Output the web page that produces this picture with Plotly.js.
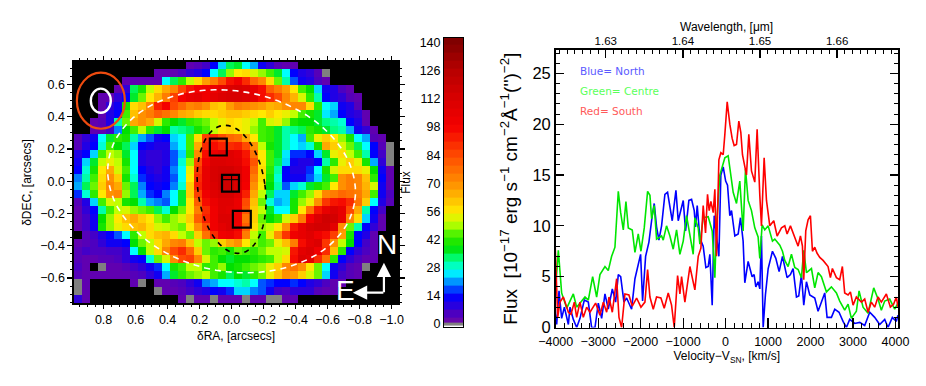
<!DOCTYPE html>
<html>
<head>
<meta charset="utf-8">
<script src="https://cdn.plot.ly/plotly-3.0.1.min.js"></script>
<style>html,body{margin:0;padding:0;background:#fff}</style>
</head>
<body>
<div id="chart" style="width:926px;height:386px"></div>
<script>
const n = null;
// flux map, top row first, null = no data (black)
const raValues = [0.96,0.91,0.86,0.81,0.76,0.71,0.66,0.61,0.56,0.51,0.46,0.41,0.36,0.31,0.26,0.21,0.16,0.11,0.06,0.01,-0.04,-0.09,-0.14,-0.19,-0.24,-0.29,-0.34,-0.39,-0.44,-0.49,-0.54,-0.59,-0.64,-0.69,-0.74,-0.79,-0.84,-0.89,-0.94,-0.99];
const decValues = [0.72,0.67,0.62,0.57,0.52,0.47,0.42,0.37,0.32,0.27,0.22,0.17,0.12,0.07,0.02,-0.03,-0.08,-0.13,-0.18,-0.23,-0.28,-0.33,-0.38,-0.43,-0.48,-0.53,-0.58,-0.63,-0.68,-0.73];
const fluxMap = [
[n,n,n,n,n,n,n,n,n,n,n,n,n,n,3,4,6,14,24,34,36,26,22,12,8,4,3,3,n,n,n,n,n,n,n,n,n,n,n,n],
[n,n,n,n,n,n,n,n,n,n,3,3,3,5,8,10,14,26,34,48,56,58,52,48,44,36,26,14,10,8,4,0,n,n,n,n,n,n,n,n],
[n,n,n,n,n,n,3,3,3,3,3,26,34,42,50,58,68,74,84,95,100,90,78,72,58,46,30,18,12,10,5,3,n,n,n,n,n,n,n,n],
[n,n,n,n,n,3,8,34,40,50,58,66,72,85,94,98,100,102,106,110,112,110,104,96,80,74,68,56,44,38,24,12,10,5,3,n,n,n,n,n],
[n,n,n,3,3,8,14,36,46,56,64,74,86,98,104,106,100,106,110,112,112,110,106,96,90,84,72,64,52,42,30,14,10,8,4,3,n,n,n,n],
[n,n,n,3,8,12,40,58,62,72,92,98,84,78,72,74,70,62,60,68,74,72,70,68,64,66,70,72,72,58,42,26,24,12,10,4,n,n,n,n],
[n,n,n,3,10,14,44,62,70,74,80,76,72,66,64,60,58,58,60,62,62,60,58,56,60,56,54,50,44,40,36,25,22,14,10,8,3,n,n,n],
[n,n,3,4,10,30,46,66,70,66,52,42,38,36,42,44,46,50,54,58,56,54,50,44,52,54,48,40,38,38,36,32,30,28,14,10,3,n,n,n],
[n,n,3,3,6,20,38,44,50,42,36,38,30,32,34,40,44,50,56,58,56,54,48,44,42,36,30,32,34,42,40,36,32,30,22,12,8,3,n,n],
[4,8,12,26,36,42,40,30,22,18,12,14,24,26,44,58,86,90,84,78,76,66,56,44,42,36,30,26,22,44,54,60,56,48,40,26,22,4,3,n],
[4,10,14,28,44,38,34,24,14,12,10,10,22,26,44,66,90,96,92,90,92,84,70,50,40,36,30,26,24,28,40,66,60,52,46,34,26,14,4,0],
[10,14,24,44,50,48,36,26,10,8,8,10,18,24,42,72,96,102,106,108,104,94,76,56,44,36,25,16,16,14,24,36,54,58,50,44,30,14,6,0],
[12,24,36,50,54,50,40,26,10,8,8,10,18,28,48,84,100,110,110,108,106,96,82,56,44,34,24,12,10,10,14,30,42,54,60,54,40,22,8,0],
[14,28,40,56,66,52,44,26,14,10,8,12,20,26,54,88,104,112,114,114,110,100,78,58,42,30,14,10,10,16,26,40,52,58,58,58,54,38,12,3],
[20,30,44,58,70,60,40,28,16,12,10,12,18,26,56,90,104,112,116,116,112,100,74,58,40,28,14,12,12,18,24,36,44,70,74,72,62,42,14,3],
[22,34,46,60,72,66,46,34,20,14,12,14,20,28,60,92,104,110,116,116,110,98,70,56,38,30,18,24,28,36,40,44,56,70,74,72,64,52,12,3],
[16,28,42,56,70,72,48,34,22,16,14,20,26,36,60,86,100,108,112,112,106,92,66,50,34,24,24,36,44,48,58,72,74,78,76,74,66,44,12,5],
[4,10,24,44,52,50,40,38,30,22,20,18,26,36,56,80,96,102,108,108,102,84,62,46,28,22,24,40,48,54,70,88,94,96,90,76,60,26,10,4],
[3,8,14,30,44,50,52,48,46,44,34,28,38,46,56,74,90,100,108,106,102,82,60,50,36,26,26,40,56,76,94,104,110,104,84,66,30,14,6,n],
[3,6,12,38,48,56,62,66,60,56,48,44,48,52,60,80,92,100,110,110,102,76,60,46,38,42,52,60,74,98,110,116,114,104,72,58,24,12,3,n],
[3,6,12,40,48,54,58,62,64,58,52,50,48,46,56,70,84,100,106,110,100,80,58,48,50,56,70,94,104,112,114,114,106,70,46,30,14,8,3,n],
[n,4,6,10,14,18,26,42,50,58,62,64,58,50,46,60,76,90,100,102,96,74,50,44,54,70,88,100,104,108,100,96,86,68,40,14,10,3,n,n],
[3,4,5,8,12,12,14,38,46,50,58,66,72,74,62,50,46,48,60,66,70,56,48,44,46,54,62,74,96,106,110,88,70,50,38,14,6,3,n,n],
[4,6,5,5,6,6,8,26,38,50,58,72,84,90,78,60,46,42,44,40,46,44,42,46,50,50,52,94,106,110,100,90,62,42,14,8,5,3,n,n],
[4,3,3,4,4,5,8,12,14,28,46,52,72,84,86,72,52,44,38,36,38,38,40,42,44,50,58,96,110,106,90,76,42,14,8,5,3,3,n,n],
[5,3,n,0,3,3,4,6,8,12,16,26,40,44,50,50,42,44,48,38,40,44,46,48,54,60,72,76,70,56,46,26,12,8,4,3,0,n,n,n],
[4,3,3,3,3,3,3,4,5,8,12,22,36,42,46,48,50,44,40,34,38,36,42,46,54,62,70,68,60,52,46,24,12,6,4,3,n,n,n,n],
[0,3,n,n,n,n,n,3,0,n,3,3,4,5,8,12,20,22,26,26,28,30,26,18,16,14,14,16,14,10,8,5,3,3,n,n,n,n,n,n],
[0,3,n,n,n,n,n,n,n,n,0,3,3,4,6,8,10,14,12,16,24,24,20,18,12,6,5,8,8,8,4,3,3,n,n,n,n,n,n,n],
[8,3,n,n,n,n,n,n,n,n,n,n,n,3,0,3,3,0,3,3,3,0,3,3,0,0,3,3,n,n,n,n,n,n,n,n,n,n,n,n]
];
const barLevels = [0,1.5,5,9,13,17,21,25,29,33,37,41,45,49,53,57,61,65,69,73,77,81,85,89,93,97,101,105,109,113,117,121,125,129,133,137,141];
const barTicks = [0,14,28,42,56,70,84,98,112,126,140];

// spectra
const blueVel = [-4016,-3977,-3922,-3860,-3796,-3702,-3663,-3585,-3506,-3428,-3326,-3232,-3154,-3075,-2997,-2918,-2840,-2762,-2667,-2589,-2526,-2470,-2393,-2330,-2213,-2134,-2001,-1954,-1883,-1805,-1727,-1680,-1625,-1570,-1507,-1429,-1366,-1256,-1169,-1115,-997,-942,-864,-801,-738,-707,-668,-605,-527,-464,-409,-370,-315,-268,-158,-111,-56,2,46,100,140,218,297,351,413,453,531,625,672,712,766,806,845,885,938,1003,1104,1183,1261,1340,1449,1527,1590,1669,1723,1786,1841,1904,1982,2100,2178,2257,2335,2390,2492,2571,2672,2766,2845,2923,3041,3159,3276,3394,3511,3629,3747,3825,3927,4021,4060];
const blueFlux = [1.5,0.3,3.6,0.9,2.0,0.3,2.0,0.8,0.0,0.9,2.7,2.5,0,0,2.4,0.9,3.3,1.8,3.8,2.5,5.2,5,2.5,2.9,1.8,4.8,7.2,2.6,7,8.4,11,12.2,9.9,8.6,10,13.1,13.3,10.5,13.5,10.5,12.5,9.5,12.5,12.6,11.5,9.9,12,8.8,8,5.9,6,7.2,2.2,11,7,15,15.8,14.4,14,11,11.5,9,9.2,10.8,8.5,4.4,6.5,5,5.2,4,4.5,3.8,9,0,3.2,5.8,7.5,6.8,5.5,7.0,4.9,5.2,5.8,3.0,3.1,5.2,2.2,4.5,3.2,2.9,1.6,2.5,3.4,1.0,1,1.8,1.5,0.6,0,0.8,0.4,0.5,0.2,1.5,1.0,0.3,0.8,0,1,0.6,1.2];
const greenVel = [-4016,-3938,-3860,-3740,-3585,-3506,-3310,-3232,-3130,-3036,-2958,-2840,-2762,-2683,-2605,-2526,-2470,-2408,-2346,-2291,-2197,-2134,-2056,-1993,-1915,-1836,-1781,-1742,-1680,-1625,-1507,-1468,-1390,-1311,-1233,-1154,-1076,-997,-919,-840,-762,-723,-644,-605,-527,-409,-315,-252,-213,-135,-17,61,179,257,335,413,469,531,610,688,766,806,861,923,1003,1104,1159,1277,1340,1394,1472,1551,1629,1708,1786,1841,1904,2022,2100,2178,2257,2375,2492,2610,2688,2805,2884,2962,3080,3143,3237,3355,3488,3590,3668,3747,3864,3982,4060];
const greenFlux = [3.0,7.6,3.4,1.9,3.3,2.0,3.0,2.7,5.0,3.0,5.2,6.0,5.6,7.0,7.9,13.4,11.3,9.6,12.4,9.8,9.6,7.4,9.2,7.5,9.8,13.4,13.0,10.7,12,8.7,9.0,8.6,10,9.0,7.7,9.6,7.2,8.5,11,9.0,7.2,10.8,9.8,8.2,10.8,10.9,9.5,4.9,10,15,16.7,16.9,13.3,12.2,14.4,9.5,15.6,12.5,11.5,9.8,8.9,6.8,10.1,9.6,10,8.5,8.7,8.1,7.5,6.6,6,7.2,5.9,5.7,4.9,7.6,5.4,5.8,3.9,5.4,5,3.5,4,3.4,2.6,1.7,2.3,0.9,1.6,3.6,2.0,1.4,3.9,2.8,1.7,2.6,2.8,1.8,2.4];
const redVel = [-4016,-3985,-3953,-3900,-3820,-3780,-3702,-3640,-3561,-3506,-3428,-3350,-3271,-3193,-3060,-2958,-2879,-2800,-2746,-2667,-2565,-2510,-2448,-2370,-2276,-2197,-2095,-1993,-1899,-1836,-1781,-1703,-1625,-1523,-1445,-1350,-1272,-1209,-1130,-1075,-1036,-958,-840,-723,-644,-581,-527,-472,-425,-386,-346,-291,-252,-213,-158,-111,-56,-17,38,100,155,202,257,312,359,398,437,492,547,610,688,743,806,845,908,963,1041,1135,1214,1316,1394,1449,1527,1629,1708,1763,1810,1841,1888,1943,1998,2045,2100,2155,2218,2296,2413,2468,2515,2610,2688,2750,2805,2884,2940,3002,3080,3198,3276,3355,3433,3511,3590,3668,3786,3880,3958,4021,4060];
const redFlux = [8.5,5,1.0,2.5,3.0,2.5,1.5,1.3,2.5,1.0,2.5,1.0,2.0,1.5,2.4,1.2,2.5,1.5,3,1.5,4.8,1,0,3.3,3.2,2.1,2.9,2,2.5,5.7,3,1.8,3,2.9,1.9,3.4,2.2,0,5.1,3.3,5,2.5,6,3.7,7,7.8,12,9.3,13.1,11.5,12.4,11.3,13.6,7,16.5,17.2,17,19,22.2,20,18.6,17.9,18,20.3,19.2,17,16,15,19,15.4,14.3,19.5,13,10,16.7,12.5,10,10.5,9,9.8,10,9.2,10,8.8,8,9,8,4.7,9.5,10.6,11,7.5,7.9,7.3,6.9,6.6,6,4.9,5.8,4.9,4.7,6,3.4,3.2,3.5,2.2,3,2.5,2.8,1.5,2.5,2,3,2.5,3.3,2,2.3,3,2];
const waveTicks = [1.63,1.64,1.65,1.66];

const fontName = '"Liberation Sans", Arial, sans-serif';
const W = 926, H = 386;
const domX = (a, b) => [a / W, b / W];
const domY = (top, bottom) => [1 - bottom / H, 1 - top / H];

// stops are flux values, scaled to 0..140 below
const rainbow = [
	[0,'#808080'],[0.6,'#808080'],[0.7,'#6a0aa8'],[3,'#6000b0'],[8,'#3000d8'],[14,'#0000ff'],[20,'#0080ff'],
	[26,'#00ffff'],[32,'#00ff80'],[38,'#00e000'],[44,'#40f000'],[50,'#c0ff00'],[56,'#ffe800'],[62,'#ffc000'],
	[70,'#ff9000'],[84,'#ff4a00'],[98,'#f40000'],[112,'#d80000'],[126,'#b80000'],[140,'#800000']
].map(s => [s[0] / 140, s[1]]);

function ellipsePath(cx, cy, a, b, deg){
	// a, b in arcsec on screen, tilt clockwise on screen; RA grows to the left
	let t = deg * Math.PI / 180, out = [];
	for(let i = 0; i <= 72; i++){
		let u = i / 72 * 2 * Math.PI;
		let sx = a * Math.cos(u) * Math.cos(t) - b * Math.sin(u) * Math.sin(t);
		let sy = a * Math.cos(u) * Math.sin(t) + b * Math.sin(u) * Math.cos(t);
		out.push((i ? 'L' : 'M') + (cx - sx).toFixed(4) + ',' + (cy - sy).toFixed(4));
	}
	return out.join(' ');
}

const heat = {type:'heatmap', x:raValues, y:decValues, z:fluxMap, xaxis:'x', yaxis:'y',
	zmin:0, zmax:140, colorscale:rainbow, showscale:false, zsmooth:false, hoverongaps:false};
const bar = {type:'heatmap', x:[0], y:barLevels, z:barLevels.map(v => [v]), xaxis:'x3', yaxis:'y3',
	zmin:0, zmax:140, colorscale:rainbow, showscale:false, zsmooth:false};
const specTrace = (x, y, color) => ({type:'scatter', mode:'lines', x:x, y:y, xaxis:'x2', yaxis:'y2',
	line:{color:color, width:1.6}, showlegend:false});
// empty traces, only there so the tick-only axes get drawn
const axisTrace = (xa, ya) => ({type:'scatter', mode:'lines', x:[], y:[], xaxis:xa, yaxis:ya, line:{width:0}, hoverinfo:'skip', showlegend:false});

const frame = {showline:true, linecolor:'#000', linewidth:1.6, showgrid:false, zeroline:false, tickcolor:'#000', ticks:'outside', tickwidth:1.2};
const textFont = {family:fontName, size:12, color:'#000'};
const tickFont = {family:fontName, size:12.5, color:'#000'};
const mapXTicks = {range:[0.985,-1.04], dtick:0.2, tick0:0, ticklen:4, minor:{dtick:0.05, ticks:'outside', ticklen:2.5, tickcolor:'#000', tickwidth:1}};
const mapYTicks = {range:[-0.755,0.74], dtick:0.2, tick0:0, ticklen:5, minor:{dtick:0.05, ticks:'outside', ticklen:2.5, tickcolor:'#000', tickwidth:1}};
const specYTicks = {range:[0,27.3], dtick:5, tick0:0, ticks:'inside', ticklen:8, minor:{dtick:1, ticks:'inside', ticklen:4, tickcolor:'#000', tickwidth:1}};

const layout = {
	width:W, height:H, margin:{l:0, r:0, t:0, b:0}, paper_bgcolor:'#fff', plot_bgcolor:'#fff',
	showlegend:false, font:textFont,
	xaxis:Object.assign({}, frame, mapXTicks, {domain:domX(74,398), anchor:'y', tickformat:'.1f', tickfont:tickFont,
		title:{text:'δRA, [arcsecs]', font:textFont, standoff:6}}),
	yaxis:Object.assign({}, frame, mapYTicks, {domain:domY(62,303), anchor:'x', tickformat:'.1f', tickfont:tickFont,
		title:{text:'δDEC, [arcsecs]', font:textFont, standoff:6}}),
	xaxis2:Object.assign({}, frame, {domain:domX(555.7,898), anchor:'y2', range:[-4000,4060], dtick:1000, tick0:0,
		ticks:'inside', ticklen:10, ticklabelstandoff:2, minor:{dtick:200, ticks:'inside', ticklen:5, tickcolor:'#000', tickwidth:1},
		tickfont:tickFont,
		title:{text:'Velocity−V<sub>SN</sub>, [km/s]', font:textFont, standoff:2}}),
	yaxis2:Object.assign({}, frame, specYTicks, {domain:domY(50,327.5), anchor:'x2',
		tickfont:{family:fontName, size:16.5, color:'#000'},
		title:{text:"Flux  [10<sup>−17</sup> erg s<sup>−1</sup> cm<sup>−2</sup>Å<sup>−1</sup>('')<sup>−2</sup>]", font:{family:fontName, size:19, color:'#000'}, standoff:10}}),
	xaxis3:{domain:domX(444,463), anchor:'y3', range:[-0.5,0.5], showticklabels:false, ticks:'', showgrid:false, zeroline:false,
		showline:true, linecolor:'#000', linewidth:1, mirror:true},
	yaxis3:{domain:domY(38,327), anchor:'x3', range:[-1.5,142.3], tickvals:barTicks, ticks:'', showgrid:false, zeroline:false,
		showline:true, linecolor:'#000', linewidth:1, mirror:true, tickfont:tickFont,
		title:{text:'Flux', font:textFont, standoff:6}},
	// wavelength scale along the top of the spectrum
	xaxis4:Object.assign({}, frame, {overlaying:'x2', anchor:'y2', side:'top', range:[1.6235,1.6679], tickvals:waveTicks, tickformat:'.2f',
		ticks:'inside', ticklen:8, ticklabelstandoff:-1, minor:{dtick:0.001, ticks:'inside', ticklen:4, tickcolor:'#000', tickwidth:1},
		tickfont:{family:fontName, size:11.5, color:'#000'}}),
	// tick-only copies for the top and right sides of the panels
	xaxis5:Object.assign({}, frame, mapXTicks, {overlaying:'x', anchor:'y', side:'top', showticklabels:false}),
	yaxis4:Object.assign({}, frame, mapYTicks, {overlaying:'y', anchor:'x', side:'right', showticklabels:false}),
	yaxis5:Object.assign({}, frame, specYTicks, {overlaying:'y2', anchor:'x2', side:'right', showticklabels:false}),
	shapes:[
		{type:'rect', layer:'below', xref:'x domain', yref:'y domain', x0:0, x1:1, y0:0, y1:1, fillcolor:'#000', line:{width:0}},
		{type:'path', xref:'x', yref:'y', path:ellipsePath(0,0,0.78,0.56,10), line:{color:'#fff', width:1.6, dash:'6px,5px'}},
		{type:'path', xref:'x', yref:'y', path:ellipsePath(0,-0.05,0.21,0.40,-8), line:{color:'#000', width:1.6, dash:'5px,5px'}},
		{type:'circle', xref:'x', yref:'y', x0:0.967, x1:0.667, y0:0.326, y1:0.674, line:{color:'#ee4b0f', width:2.2}},
		{type:'circle', xref:'x', yref:'y', x0:0.88, x1:0.755, y0:0.425, y1:0.575, line:{color:'#fff', width:2.4}},
		{type:'rect', xref:'x', yref:'y', x0:0.136, x1:0.03, y0:0.16, y1:0.265, line:{color:'#000', width:2.2}},
		{type:'rect', xref:'x', yref:'y', x0:0.06, x1:-0.046, y0:-0.064, y1:0.04, line:{color:'#000', width:2.2}},
		{type:'rect', xref:'x', yref:'y', x0:-0.008, x1:-0.12, y0:-0.288, y1:-0.183, line:{color:'#000', width:2.2}},
		{type:'line', xref:'x', yref:'y', x0:0.06, x1:-0.046, y0:0.01, y1:0.01, line:{color:'#000', width:1}},
		{type:'line', xref:'x', yref:'y', x0:0, x1:0, y0:-0.064, y1:0.04, line:{color:'#000', width:1}}
	],
	annotations:[
		{xref:'x', yref:'y', x:-0.952, y:-0.505, ax:0, ay:31, text:'', showarrow:true, arrowhead:2, arrowsize:1.3, arrowwidth:2.2, arrowcolor:'#fff'},
		{xref:'x', yref:'y', x:-0.758, y:-0.691, ax:32, ay:0, text:'', showarrow:true, arrowhead:2, arrowsize:1.3, arrowwidth:2.2, arrowcolor:'#fff'},
		{xref:'paper', yref:'paper', x:386.5/W, y:1-244/H, xanchor:'center', yanchor:'middle', text:'N', showarrow:false, font:{family:fontName, size:28, color:'#fff'}},
		{xref:'paper', yref:'paper', x:345.5/W, y:1-290/H, xanchor:'center', yanchor:'middle', text:'E', showarrow:false, font:{family:fontName, size:28, color:'#fff'}},
		{xref:'paper', yref:'paper', x:726.5/W, y:1-26.5/H, xanchor:'center', yanchor:'middle', text:'Wavelength, [μm]', showarrow:false, font:textFont},
		{xref:'paper', yref:'paper', x:578/W, y:1-71/H, xanchor:'left', yanchor:'middle', text:'Blue= North', showarrow:false, font:{family:'DejaVu Sans', size:10.5, color:'#5a5aff'}},
		{xref:'paper', yref:'paper', x:578/W, y:1-91/H, xanchor:'left', yanchor:'middle', text:'Green= Centre', showarrow:false, font:{family:'DejaVu Sans', size:10.5, color:'#5aff5a'}},
		{xref:'paper', yref:'paper', x:578/W, y:1-111/H, xanchor:'left', yanchor:'middle', text:'Red= South', showarrow:false, font:{family:'DejaVu Sans', size:10.5, color:'#ff5a5a'}}
	]
};

const traces = [heat, bar, specTrace(blueVel, blueFlux, '#0000ff'), specTrace(greenVel, greenFlux, '#00e600'), specTrace(redVel, redFlux, '#ff0000'),
	axisTrace('x4','y2'), axisTrace('x5','y'), axisTrace('x','y4'), axisTrace('x2','y5')];
Plotly.newPlot('chart', traces, layout, {staticPlot:true, displayModeBar:false});
</script>
</body>
</html>
